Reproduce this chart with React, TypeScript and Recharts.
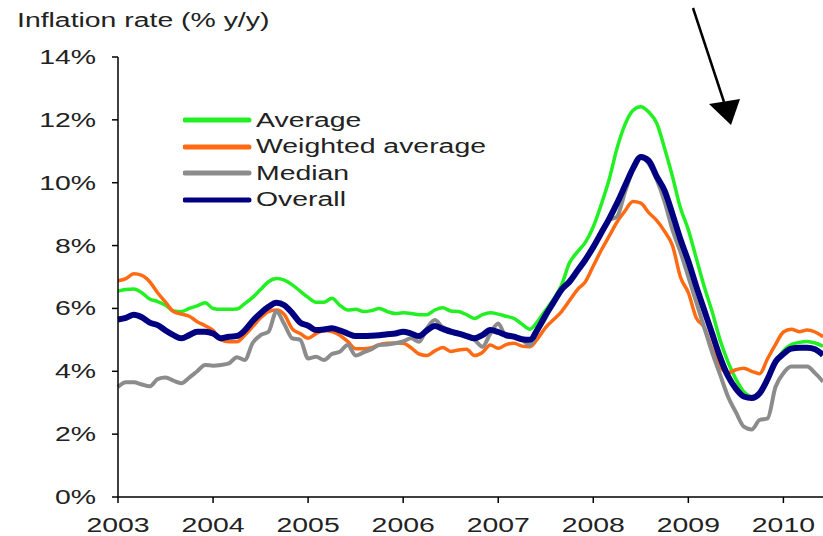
import { LineChart, Line, XAxis, YAxis } from 'recharts';

// monthly, Jan 2003 .. Jun 2010
const years = ['2003', '2004', '2005', '2006', '2007', '2008', '2009', '2010'];
const yTicks = [0, 2, 4, 6, 8, 10, 12, 14];

const average = [
  6.55, 6.6, 6.62, 6.5, 6.3, 6.22, 6.1, 5.92, 5.9, 6.0, 6.08, 6.18,
  6.0, 5.97, 5.97, 5.98, 6.15, 6.35, 6.6, 6.85, 6.95, 6.9, 6.75, 6.55,
  6.35, 6.2, 6.2, 6.32, 6.1, 5.95, 5.97, 5.9, 5.93, 6.0, 5.9, 5.84,
  5.86, 5.84, 5.8, 5.8, 5.95, 6.02, 5.92, 5.9, 5.8, 5.68, 5.8, 5.86,
  5.82, 5.75, 5.68, 5.5, 5.34, 5.6, 5.95, 6.3, 6.75, 7.45, 7.8, 8.1,
  8.6, 9.3, 10.1, 11.1, 11.85, 12.3, 12.42, 12.25, 11.9, 11.1, 10.2, 9.2,
  8.5, 7.6, 6.7, 5.9, 5.0, 4.3, 3.75, 3.35, 3.2, 3.3, 3.75, 4.3,
  4.65, 4.85, 4.92, 4.95, 4.9, 4.8,
];

const weightedAverage = [
  6.88, 6.95, 7.1, 7.05, 6.85, 6.5, 6.2, 5.9, 5.82, 5.75, 5.58, 5.45,
  5.3, 5.0, 4.94, 4.94, 5.15, 5.42, 5.7, 5.9, 5.95, 5.8, 5.35, 5.2,
  5.05, 5.2, 5.3, 5.26, 5.15, 4.95, 4.72, 4.72, 4.75, 4.85, 4.89, 4.9,
  4.89, 4.75, 4.55, 4.5, 4.65, 4.76, 4.63, 4.68, 4.7, 4.5, 4.6, 4.84,
  4.73, 4.85, 4.89, 4.8, 4.78, 5.05, 5.4, 5.65, 5.9, 6.25, 6.6, 6.85,
  7.35, 7.85, 8.3, 8.75, 9.1, 9.4, 9.35, 9.05, 8.8, 8.45, 8.0, 7.0,
  6.5, 5.7, 5.4, 4.7, 4.15, 3.95, 4.05, 4.1, 4.0, 3.92, 4.4, 4.85,
  5.25, 5.34, 5.26, 5.31, 5.25, 5.1,
];

const median = [
  3.5, 3.65, 3.65, 3.58, 3.52, 3.75, 3.8, 3.7, 3.62, 3.8, 4.0, 4.2,
  4.18, 4.2, 4.25, 4.45, 4.36, 4.9, 5.15, 5.26, 5.9, 5.5, 5.05, 5.0,
  4.41, 4.46, 4.36, 4.55, 4.62, 4.84, 4.5, 4.6, 4.7, 4.84, 4.85, 4.89,
  4.95, 5.05, 4.94, 5.37, 5.63, 5.4, 5.3, 5.2, 5.1, 5.0, 4.78, 5.2,
  5.52, 5.1, 5.08, 5.0, 4.84, 5.3, 5.7, 6.25, 6.6, 6.9, 7.2, 7.5,
  7.95, 8.4, 8.8, 8.92, 9.7, 10.4, 10.8, 10.6, 10.1, 9.4, 8.5, 7.8,
  7.0, 6.2, 5.4, 4.6, 3.9, 3.2, 2.7, 2.24, 2.15, 2.45, 2.5, 3.5,
  3.94, 4.15, 4.15, 4.15, 3.94, 3.67,
];

const overall = [
  5.65, 5.7, 5.8, 5.72, 5.55, 5.47, 5.3, 5.15, 5.05, 5.15, 5.26, 5.26,
  5.2, 5.05, 5.1, 5.12, 5.3, 5.6, 5.85, 6.05, 6.18, 6.1, 5.85, 5.55,
  5.45, 5.31, 5.33, 5.37, 5.3, 5.2, 5.12, 5.12, 5.13, 5.15, 5.18, 5.2,
  5.26, 5.2, 5.12, 5.3, 5.44, 5.35, 5.26, 5.2, 5.12, 5.05, 5.15, 5.31,
  5.25, 5.15, 5.1, 5.02, 5.0, 5.35, 5.8, 6.2, 6.6, 6.85, 7.2, 7.55,
  7.95, 8.4, 8.85, 9.35, 9.9, 10.45, 10.82, 10.7, 10.2, 9.75, 9.0, 8.2,
  7.5, 6.7, 5.95, 5.2, 4.45, 3.85, 3.45, 3.2, 3.15, 3.3, 3.75, 4.3,
  4.55, 4.72, 4.75, 4.75, 4.7, 4.52,
];

const data = overall.map((_, i) => ({
  m: i,
  average: average[i],
  weighted: weightedAverage[i],
  median: median[i],
  overall: overall[i],
}));

const FONT = '"Liberation Sans", Arial, sans-serif';
const TEXT = '#222';
const STRETCH = 1.42; // source image is stretched horizontally

const series = [
  { key: 'average', name: 'Average', color: '#22f022', width: 3.5 },
  { key: 'weighted', name: 'Weighted average', color: '#ff6a13', width: 3.5 },
  { key: 'median', name: 'Median', color: '#8c8c8c', width: 4 },
  { key: 'overall', name: 'Overall', color: '#000080', width: 6 },
];

const YTick = ({ x, y, payload }: any) => (
  <g transform={`translate(${x},${y}) scale(${STRETCH},1)`}>
    <text x={0} y={0} dy="0.35em" textAnchor="end" fontSize={20} fontFamily={FONT} fill={TEXT}>
      {`${payload.value}%`}
    </text>
  </g>
);

const XTick = ({ x, y, payload }: any) => (
  <g transform={`translate(${x},${y}) scale(${STRETCH},1)`}>
    <text x={0} y={0} dy="0.71em" textAnchor="middle" fontSize={20} fontFamily={FONT} fill={TEXT}>
      {years[Math.round(payload.value / 12)]}
    </text>
  </g>
);

const LegendBox = () => (
  <div style={{ position: 'absolute', left: 183, top: 107, display: 'flex', flexDirection: 'column' }}>
    {series.map((s) => (
      <div key={s.key} style={{ display: 'flex', alignItems: 'center', height: 26.5 }}>
        <svg width={73} height={10} style={{ flexShrink: 0 }}>
          <line x1={2} y1={5} x2={66} y2={5} stroke={s.color} strokeWidth={5} strokeLinecap="round" />
        </svg>
        <span
          style={{
            display: 'inline-block',
            fontFamily: FONT,
            fontSize: 20,
            color: TEXT,
            whiteSpace: 'nowrap',
            transform: `scaleX(${STRETCH})`,
            transformOrigin: 'left center',
          }}
        >
          {s.name}
        </span>
      </div>
    ))}
  </div>
);

export default function App() {
  return (
    <div style={{ position: 'absolute', left: 0, top: 0, width: 823, height: 536, background: '#fff' }}>
      <LineChart width={823} height={536} data={data} margin={{ top: 57, right: 0, bottom: 0, left: 0 }}>
        <XAxis
          dataKey="m"
          type="number"
          domain={[0, 89]}
          ticks={[0, 12, 24, 36, 48, 60, 72, 84]}
          interval={0}
          height={39}
          tickSize={6}
          tickMargin={15}
          tick={<XTick />}
          axisLine={{ stroke: '#000', strokeWidth: 1.5 }}
          tickLine={{ stroke: '#000', strokeWidth: 1.5 }}
        />
        <YAxis
          domain={[0, 14]}
          ticks={yTicks}
          interval={0}
          width={118}
          tickSize={6}
          tickMargin={16}
          tick={<YTick />}
          axisLine={{ stroke: '#000', strokeWidth: 1.5 }}
          tickLine={{ stroke: '#000', strokeWidth: 1.5 }}
        />
        {series.map((s) => (
          <Line
            key={s.key}
            dataKey={s.key}
            name={s.name}
            type="monotone"
            stroke={s.color}
            strokeWidth={s.width}
            dot={false}
            isAnimationActive={false}
          />
        ))}
      </LineChart>
      <LegendBox />
      <svg
        width={823}
        height={536}
        style={{ position: 'absolute', left: 0, top: 0, pointerEvents: 'none' }}
      >
        <g transform={`translate(17,27) scale(${STRETCH},1)`}>
          <text x={0} y={0} fontSize={20} fontFamily={FONT} fill={TEXT}>
            Inflation rate (% y/y)
          </text>
        </g>
        <line x1={693} y1={8} x2={724} y2={102} stroke="#000" strokeWidth={2.5} />
        <polygon points="709,104 740,99 731,125" fill="#000" />
      </svg>
    </div>
  );
}
